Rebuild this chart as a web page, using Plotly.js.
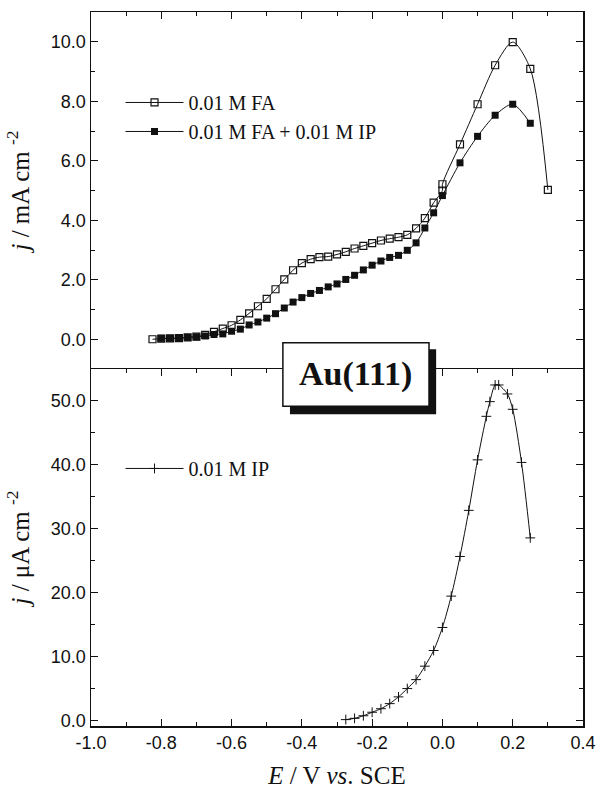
<!DOCTYPE html>
<html>
<head>
<meta charset="utf-8">
<script src="https://cdn.plot.ly/plotly-3.0.1.min.js"></script>
<style>html,body{margin:0;padding:0;background:#fff;}#chart{width:600px;height:796px;}</style>
</head>
<body>
<div id="chart"></div>
<script>
// ---- data ----
const faX = [-0.825, -0.8, -0.775, -0.75, -0.725, -0.7, -0.675, -0.65, -0.625, -0.6, -0.575, -0.55, -0.525, -0.5,
  -0.475, -0.45, -0.425, -0.4, -0.375, -0.35, -0.325, -0.3, -0.275, -0.25, -0.225, -0.2, -0.175, -0.15, -0.125,
  -0.1, -0.075, -0.05, -0.025, 0.0, 0.0, 0.05, 0.1, 0.15, 0.2, 0.25, 0.3];
const faY = [0.0, 0.02, 0.03, 0.04, 0.06, 0.09, 0.15, 0.25, 0.36, 0.47, 0.65, 0.87, 1.11, 1.36,
  1.68, 2.01, 2.32, 2.56, 2.69, 2.76, 2.78, 2.85, 2.94, 3.05, 3.14, 3.23, 3.32, 3.38, 3.43,
  3.51, 3.73, 4.07, 4.59, 5.0, 5.21, 6.55, 7.90, 9.21, 9.99, 9.09, 5.02];

const faIpX = [-0.8, -0.775, -0.75, -0.725, -0.7, -0.675, -0.65, -0.625, -0.6, -0.575, -0.55, -0.525, -0.5,
  -0.475, -0.45, -0.425, -0.4, -0.375, -0.35, -0.325, -0.3, -0.275, -0.25, -0.225, -0.2, -0.175, -0.15, -0.125,
  -0.1, -0.075, -0.05, -0.025, 0.0, 0.05, 0.1, 0.15, 0.2, 0.25];
const faIpY = [0.03, 0.03, 0.03, 0.06, 0.08, 0.11, 0.16, 0.18, 0.27, 0.34, 0.48, 0.58, 0.71,
  0.86, 1.05, 1.25, 1.40, 1.54, 1.64, 1.76, 1.86, 2.01, 2.15, 2.33, 2.49, 2.63, 2.75, 2.82,
  2.99, 3.24, 3.74, 4.25, 4.83, 5.93, 6.82, 7.53, 7.90, 7.26];

const ipX = [-0.275, -0.25, -0.225, -0.2, -0.175, -0.15, -0.125, -0.1, -0.075, -0.05, -0.025, 0.0, 0.025,
  0.05, 0.075, 0.1, 0.125, 0.135, 0.15, 0.16, 0.185, 0.2, 0.225, 0.25];
const ipY = [0.1, 0.3, 0.7, 1.25, 1.8, 2.6, 3.65, 4.95, 6.35, 8.45, 10.9, 14.5, 19.4,
  25.6, 32.8, 40.7, 47.5, 49.8, 52.4, 52.4, 51.0, 48.6, 40.3, 28.5];

const seriesNames = ['0.01 M FA', '0.01 M FA + 0.01 M IP', '0.01 M IP'];
const xTickVals = [-1.0, -0.8, -0.6, -0.4, -0.2, 0.0, 0.2, 0.4];
const xTickText = ['-1.0', '-0.8', '-0.6', '-0.4', '-0.2', '0.0', '0.2', '0.4'];
const boxLabel = 'Au(111)';

// ---- styles ----
const SERIF = '"Liberation Serif", "Times New Roman", serif';
const SANS = '"Liberation Sans", Arial, sans-serif';
const lineStyle = {color: '#111', width: 1, shape: 'spline', smoothing: 0.8};

const traces = [
  {x: faX, y: faY, xaxis: 'x2', yaxis: 'y2', mode: 'lines+markers', name: seriesNames[0],
   line: lineStyle, legend: 'legend',
   marker: {symbol: 'square-open', size: 7, color: '#111', line: {width: 1.2, color: '#111'}}},
  {x: faIpX, y: faIpY, xaxis: 'x2', yaxis: 'y2', mode: 'lines+markers', name: seriesNames[1],
   line: lineStyle, legend: 'legend',
   marker: {symbol: 'square', size: 7, color: '#111'}},
  {x: ipX, y: ipY, xaxis: 'x', yaxis: 'y', mode: 'lines+markers', name: seriesNames[2],
   line: lineStyle, legend: 'legend2',
   marker: {symbol: 'cross-thin', size: 7, line: {width: 1, color: '#111'}, color: '#111'}}
];

const axisCommon = {
  showline: true, linecolor: '#111', linewidth: 1.5, showgrid: false, zeroline: false,
  ticks: 'inside', ticklen: 7, tickwidth: 1.2, tickcolor: '#111',
  tickfont: {family: SANS, size: 18, color: '#111'}
};

const layout = {
  width: 600, height: 796,
  margin: {l: 91, r: 17, t: 12, b: 70},
  paper_bgcolor: '#fff', plot_bgcolor: '#fff',
  showlegend: true,
  xaxis: Object.assign({}, axisCommon, {
    domain: [0, 1], anchor: 'y', range: [-1.0, 0.4], mirror: 'ticks',
    tickvals: xTickVals, ticktext: xTickText,
    minor: {dtick: 0.1, ticks: 'inside', ticklen: 4, tickwidth: 1, tickcolor: '#111'},
    title: {text: '<i>E</i> / V <i>vs</i>. SCE', font: {family: SERIF, size: 25, color: '#111'}, standoff: 14}
  }),
  yaxis: Object.assign({}, axisCommon, {
    domain: [0, 0.5], anchor: 'x', range: [-0.9, 54.9], mirror: 'ticks',
    dtick: 10, tickformat: '.1f',
    minor: {dtick: 5, ticks: 'inside', ticklen: 4, tickwidth: 1, tickcolor: '#111'},
    title: {text: '<i>j</i> / μA cm <sup>-2</sup>', font: {family: SERIF, size: 25, color: '#111'}, standoff: 14}
  }),
  xaxis2: Object.assign({}, axisCommon, {
    domain: [0, 1], anchor: 'y2', range: [-1.0, 0.4], side: 'top', mirror: false,
    tickvals: xTickVals, showticklabels: false, matches: 'x',
    minor: {dtick: 0.1, ticks: 'inside', ticklen: 4, tickwidth: 1, tickcolor: '#111'}
  }),
  yaxis2: Object.assign({}, axisCommon, {
    domain: [0.5, 1], anchor: 'x2', range: [-1, 11], mirror: 'ticks',
    dtick: 2, tickformat: '.1f',
    minor: {dtick: 1, ticks: 'inside', ticklen: 4, tickwidth: 1, tickcolor: '#111'},
    title: {text: '<i>j</i> / mA cm <sup>-2</sup>', font: {family: SERIF, size: 25, color: '#111'}, standoff: 14}
  }),
  legend: {
    x: 0.060, y: 0.9006, xanchor: 'left', yanchor: 'top', bgcolor: 'rgba(0,0,0,0)',
    font: {family: SERIF, size: 20, color: '#111'}, tracegroupgap: 0, itemwidth: 58
  },
  legend2: {
    x: 0.060, y: 0.388, xanchor: 'left', yanchor: 'top', bgcolor: 'rgba(0,0,0,0)',
    font: {family: SERIF, size: 20, color: '#111'}, itemwidth: 58
  },
  shapes: [
    {type: 'rect', xref: 'paper', yref: 'paper', x0: 0.4044, x1: 0.7015, y0: 0.4366, y1: 0.5276,
     fillcolor: '#111', line: {width: 0}, layer: 'above'},
    {type: 'rect', xref: 'paper', yref: 'paper', x0: 0.390, x1: 0.687, y0: 0.4478, y1: 0.5367,
     fillcolor: '#fff', line: {width: 1.5, color: '#111'}, layer: 'above'}
  ],
  annotations: [
    {xref: 'paper', yref: 'paper', x: 0.5386, y: 0.4926, text: '<b>' + boxLabel + '</b>', showarrow: false,
     font: {family: SERIF, size: 34, color: '#111'}, xanchor: 'center', yanchor: 'middle'}
  ]
};

Plotly.newPlot('chart', traces, layout, {staticPlot: true, displayModeBar: false});
</script>
</body>
</html>
